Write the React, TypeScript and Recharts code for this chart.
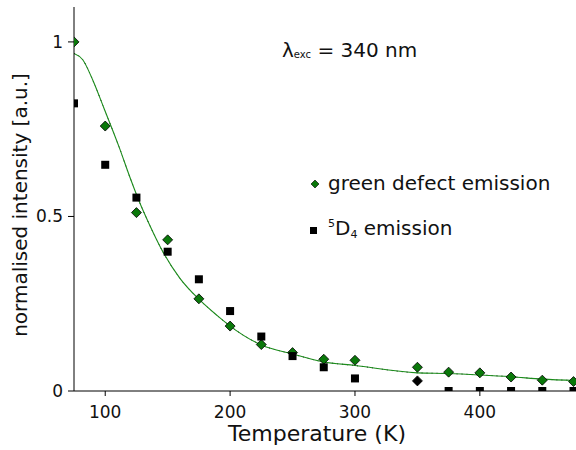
import {
  ComposedChart,
  XAxis,
  YAxis,
  Scatter,
  Line,
  Customized,
} from "recharts";

// temperatures (K) shared by the green defect emission series
const greenTemps = [75, 100, 125, 150, 175, 200, 225, 250, 275, 300, 350, 375, 400, 425, 450, 475];
const greenValues = [1, 0.759, 0.511, 0.433, 0.264, 0.186, 0.133, 0.11, 0.091, 0.088, 0.068, 0.054, 0.052, 0.04, 0.031, 0.027];

// 5D4 emission (squares)
const d4Temps = [75, 100, 125, 150, 175, 200, 225, 250, 275, 300, 375, 400, 425, 450, 475];
const d4Values = [0.824, 0.648, 0.554, 0.399, 0.32, 0.229, 0.156, 0.1, 0.068, 0.036, 0, 0, 0, 0, 0];

// the single 5D4 point drawn as a black diamond
const d4OddTemps = [350];
const d4OddValues = [0.029];

// fitted curve
const fitTemps = [75, 82, 90, 99, 111, 120, 127, 135, 146, 160, 175, 190, 200, 225, 250, 274, 300, 350, 375, 400, 425, 450, 477];
const fitValues = [0.967, 0.949, 0.891, 0.81, 0.7, 0.61, 0.545, 0.48, 0.4, 0.322, 0.263, 0.215, 0.186, 0.132, 0.106, 0.084, 0.073, 0.052, 0.05, 0.046, 0.041, 0.034, 0.03];

const xTicks = [100, 200, 300, 400];
const yTicks = [0, 0.5, 1];

const green = greenTemps.map((t, i) => ({ t, v: greenValues[i] }));
const d4 = d4Temps.map((t, i) => ({ t, v: d4Values[i] }));
const d4Odd = d4OddTemps.map((t, i) => ({ t, v: d4OddValues[i] }));
const fit = fitTemps.map((t, i) => ({ t, v: fitValues[i] }));

const FONT = "DejaVu Sans, Verdana, sans-serif";
const GREEN = "#0a780a";

function Diamond(props: any) {
  const { cx, cy, fill } = props;
  const r = 5;
  return (
    <polygon
      points={`${cx},${cy - r} ${cx + r},${cy} ${cx},${cy + r} ${cx - r},${cy}`}
      fill={fill}
      stroke="#000"
      strokeWidth={0.8}
    />
  );
}

function Square(props: any) {
  const { cx, cy } = props;
  return <rect x={cx - 4} y={cy - 4} width={8} height={8} fill="#000" />;
}

function Texts() {
  return (
    <g fontFamily={FONT} fill="#111">
      <text x={282} y={57} fontSize={20}>
        λ<tspan fontSize={10} dy={1}>exc</tspan>
        <tspan dy={-1}> = 340 nm</tspan>
      </text>
      <polygon points="315,180 319,184 315,188 311,184" fill={GREEN} stroke="#000" strokeWidth={0.6} />
      <text x={328} y={190} fontSize={20}>green defect emission</text>
      <rect x={310} y={227} width={7} height={7} fill="#000" />
      <text x={328} y={235} fontSize={20}>
        <tspan fontSize={11} dy={-8}>5</tspan>
        <tspan dy={8}>D</tspan>
        <tspan fontSize={11} dy={3}>4</tspan>
        <tspan dy={-3}> emission</tspan>
      </text>
      <text x={317} y={441} fontSize={22} textAnchor="middle">
        Temperature (K)
      </text>
      <text
        x={27}
        y={205}
        fontSize={20}
        textAnchor="middle"
        transform="rotate(-90 27 205)"
      >
        normalised intensity [a.u.]
      </text>
    </g>
  );
}

export default function App() {
  return (
    <div style={{ position: "absolute", left: 0, top: 0, background: "#fff" }}>
      <ComposedChart
        width={576}
        height={450}
        margin={{ top: 7, right: 0, bottom: 0, left: 0 }}
      >
        <XAxis
          type="number"
          dataKey="t"
          domain={[75, 477]}
          ticks={xTicks}
          allowDataOverflow
          height={59}
          stroke="#000"
          tickSize={5}
          tickMargin={10}
          tick={{ fill: "#111", fontSize: 17, fontFamily: FONT }}
        />
        <YAxis
          type="number"
          dataKey="v"
          domain={[0, 1.1]}
          ticks={yTicks}
          allowDataOverflow
          width={74}
          stroke="#000"
          tickSize={6}
          tickMargin={5}
          tick={{ fill: "#111", fontSize: 17, fontFamily: FONT }}
        />
        <Line
          data={fit}
          dataKey="v"
          type="monotone"
          stroke="#000"
          strokeWidth={1}
          strokeDasharray="1 4"
          dot={false}
          isAnimationActive={false}
        />
        <Line
          data={fit}
          dataKey="v"
          type="monotone"
          stroke="#1c8c1c"
          strokeWidth={1.1}
          dot={false}
          isAnimationActive={false}
        />
        <Scatter
          data={green}
          dataKey="v"
          fill={GREEN}
          shape={<Diamond />}
          isAnimationActive={false}
        />
        <Scatter
          data={d4}
          dataKey="v"
          fill="#000"
          shape={<Square />}
          isAnimationActive={false}
        />
        <Scatter
          data={d4Odd}
          dataKey="v"
          fill="#000"
          shape={<Diamond />}
          isAnimationActive={false}
        />
        <Customized component={Texts} />
      </ComposedChart>
    </div>
  );
}
